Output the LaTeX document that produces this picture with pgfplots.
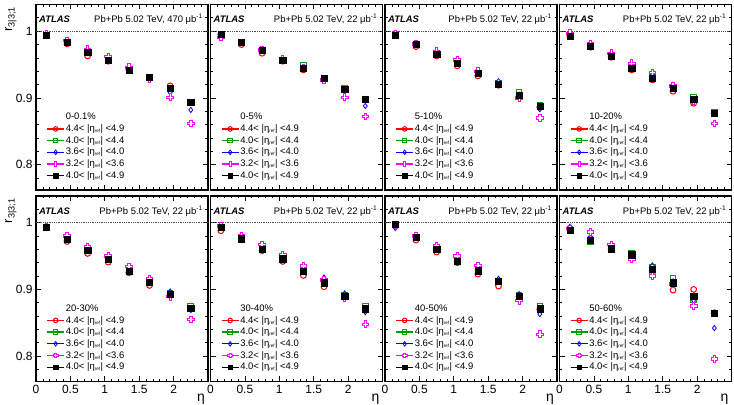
\documentclass[border=0pt]{standalone}
\usepackage{pgfplots}
\pgfplotsset{compat=1.18}
\usepackage{pgfplotstable}
\usepackage{fontspec}
\setmainfont{Liberation Sans}

\definecolor{rred}{RGB}{255,0,0}
\definecolor{rgreen}{RGB}{0,160,0}
\definecolor{rblue}{RGB}{0,0,255}
\definecolor{rmag}{RGB}{255,0,255}

% open cross marker
\pgfdeclareplotmark{ocross}{%
  \pgfpathmoveto{\pgfpoint{-\pgfplotmarksize}{-0.35\pgfplotmarksize}}%
  \pgfpathlineto{\pgfpoint{-0.35\pgfplotmarksize}{-0.35\pgfplotmarksize}}%
  \pgfpathlineto{\pgfpoint{-0.35\pgfplotmarksize}{-\pgfplotmarksize}}%
  \pgfpathlineto{\pgfpoint{0.35\pgfplotmarksize}{-\pgfplotmarksize}}%
  \pgfpathlineto{\pgfpoint{0.35\pgfplotmarksize}{-0.35\pgfplotmarksize}}%
  \pgfpathlineto{\pgfpoint{\pgfplotmarksize}{-0.35\pgfplotmarksize}}%
  \pgfpathlineto{\pgfpoint{\pgfplotmarksize}{0.35\pgfplotmarksize}}%
  \pgfpathlineto{\pgfpoint{0.35\pgfplotmarksize}{0.35\pgfplotmarksize}}%
  \pgfpathlineto{\pgfpoint{0.35\pgfplotmarksize}{\pgfplotmarksize}}%
  \pgfpathlineto{\pgfpoint{-0.35\pgfplotmarksize}{\pgfplotmarksize}}%
  \pgfpathlineto{\pgfpoint{-0.35\pgfplotmarksize}{0.35\pgfplotmarksize}}%
  \pgfpathlineto{\pgfpoint{-\pgfplotmarksize}{0.35\pgfplotmarksize}}%
  \pgfpathclose
  \pgfusepathqfillstroke}

% r_{3|3;1} vs eta; columns: 4.4-4.9 (r), 4.0-4.4 (g), 3.6-4.0 (b), 3.2-3.6 (m), 4.0-4.9 (k)
\pgfplotstableread{
eta  r     g     b     m     k
0.15 0.994 0.993 0.995 0.996 0.994
0.45 0.981 0.982 0.985 0.986 0.983
0.75 0.963 0.968 0.971 0.973 0.968
1.05 0.955 0.957 0.959 0.962 0.956
1.35 0.942 0.942 0.944 0.946 0.941
1.65 0.930 0.931 0.929 0.928 0.931
1.95 0.918 0.914 0.908 0.901 0.915
2.25 0.893 0.893 0.882 0.862 0.893
}\tabA
\pgfplotstableread{
eta  r     g     b     m     k
0.15 0.995 0.996 0.994 0.991 0.996
0.45 0.980 0.983 0.983 0.983 0.983
0.75 0.967 0.971 0.972 0.972 0.971
1.05 0.955 0.957 0.957 0.958 0.956
1.35 0.942 0.949 0.946 0.945 0.945
1.65 0.929 0.929 0.928 0.927 0.929
1.95 0.912 0.915 0.911 0.901 0.913
2.25 0.898 0.898 0.888 0.872 0.898
}\tabB
\pgfplotstableread{
eta  r     g     b     m     k
0.15 0.994 0.995 0.995 0.996 0.994
0.45 0.977 0.980 0.981 0.981 0.980
0.75 0.963 0.966 0.968 0.970 0.966
1.05 0.948 0.952 0.955 0.957 0.952
1.35 0.933 0.937 0.942 0.940 0.937
1.65 0.919 0.922 0.925 0.922 0.921
1.95 0.903 0.908 0.905 0.900 0.904
2.25 0.886 0.889 0.883 0.870 0.887
}\tabC
\pgfplotstableread{
eta  r     g     b     m     k
0.15 0.993 0.993 0.995 0.997 0.992
0.45 0.976 0.977 0.979 0.981 0.977
0.75 0.961 0.963 0.965 0.967 0.963
1.05 0.942 0.946 0.950 0.952 0.945
1.35 0.927 0.931 0.936 0.938 0.930
1.65 0.910 0.916 0.920 0.918 0.915
1.95 0.892 0.901 0.898 0.895 0.898
2.25 0.877 0.879 0.877 0.862 0.877
}\tabD
\pgfplotstableread{
eta  r     g     b     m     k
0.15 0.993 0.993 0.994 0.994 0.993
0.45 0.972 0.975 0.978 0.980 0.975
0.75 0.954 0.959 0.962 0.964 0.959
1.05 0.941 0.945 0.948 0.950 0.945
1.35 0.925 0.928 0.932 0.934 0.927
1.65 0.906 0.911 0.914 0.916 0.911
1.95 0.891 0.894 0.897 0.889 0.893
2.25 0.871 0.874 0.869 0.855 0.872
}\tabE
\pgfplotstableread{
eta  r     g     b     m     k
0.15 0.988 0.992 0.994 0.995 0.993
0.45 0.975 0.976 0.979 0.981 0.976
0.75 0.958 0.960 0.964 0.967 0.960
1.05 0.942 0.946 0.950 0.952 0.946
1.35 0.921 0.928 0.933 0.935 0.927
1.65 0.904 0.911 0.918 0.914 0.910
1.95 0.889 0.891 0.894 0.887 0.890
2.25 0.870 0.875 0.866 0.848 0.871
}\tabF
\pgfplotstableread{
eta  r     g     b     m     k
0.15 0.997 0.997 0.992 0.996 0.998
0.45 0.974 0.978 0.979 0.980 0.978
0.75 0.956 0.961 0.963 0.966 0.960
1.05 0.940 0.943 0.947 0.950 0.942
1.35 0.923 0.929 0.932 0.936 0.928
1.65 0.905 0.912 0.916 0.912 0.912
1.95 0.889 0.891 0.893 0.883 0.890
2.25 0.870 0.875 0.863 0.833 0.871
}\tabG
\pgfplotstableread{
eta  r     g     b     m     k
0.15 0.990 0.990 0.994 0.991 0.989
0.45 0.976 0.971 0.979 0.986 0.974
0.75 0.960 0.960 0.963 0.967 0.961
1.05 0.950 0.954 0.948 0.945 0.952
1.35 0.925 0.933 0.936 0.920 0.930
1.65 0.899 0.917 0.912 0.908 0.910
1.95 0.900 0.885 0.883 0.875 0.890
2.25 0.865 0.864 0.842 0.796 0.864
}\tabH

\newcommand{\er}{|η\textsubscript{\fontsize{4.5}{5}\selectfont ref}|}

\pgfplotsset{
  rpanel/.style={
    scale only axis, width=172bp, height=185.5bp, anchor=south west,
    xmin=0, xmax=2.5, ymin=0.762, ymax=1.04,
    xtick={0,0.5,1,1.5,2}, xticklabels={},
    minor xtick={0.1,0.2,0.3,0.4,0.6,0.7,0.8,0.9,1.1,1.2,1.3,1.4,1.6,1.7,1.8,1.9,2.1,2.2,2.3,2.4},
    ytick={0.8,0.9,1}, yticklabels={},
    minor ytick={0.78,0.82,0.84,0.86,0.88,0.92,0.94,0.96,0.98,1.02},
    tick align=inside, major tick length=5bp, minor tick length=2.5bp,
    every tick/.style={black, line width=0.7bp},
    axis line style={line width=1.1bp},
    tick label style={font=\fontsize{12}{12}\selectfont},
    legend style={draw=none, fill=none, at={(rel axis cs:0.06,0.425)}, anchor=north west,
      font=\fontsize{9.5}{10}\selectfont, row sep=0pt, inner sep=0pt,
      nodes={inner sep=1bp, text height=7.5bp, text depth=2.2bp}},
    legend cell align=left,
    legend image code/.code={%
      \draw[##1, line width=1.3bp, mark=none] (0cm,0cm) -- (0.6cm,0cm);
      \draw[##1, mark size=2.3bp] plot coordinates {(0.3cm,0cm)};},
  },
  sred/.style={only marks, color=rred, mark=o, mark size=2.9bp, mark options={line width=1bp}},
  sgreen/.style={only marks, color=rgreen, mark=square, mark size=2.8bp, mark options={line width=1bp}},
  sblue/.style={only marks, color=rblue, mark=diamond, mark size=2.6bp, mark options={line width=0.8bp}},
  smag/.style={only marks, color=rmag, mark=ocross, mark size=3.3bp, mark options={line width=0.9bp, fill=white}},
  sblack/.style={only marks, color=black, mark=square*, mark size=3.1bp},
}

% one centrality panel: x, y, table, centrality, luminosity, extra keys
\newcommand{\panel}[6]{%
  \begin{axis}[rpanel, at={(#1bp,#2bp)}, #6]
    \addlegendimage{empty legend}\addlegendentry{#4}
    \draw[densely dotted, line width=0.8bp, black!70] (axis cs:0,1) -- (axis cs:2.5,1);
    \addplot[sred]   table[x=eta, y=r] {#3}; \addlegendentry{4.4< \er{} <4.9}
    \addplot[sgreen] table[x=eta, y=g] {#3}; \addlegendentry{4.0< \er{} <4.4}
    \addplot[sblue]  table[x=eta, y=b] {#3}; \addlegendentry{3.6< \er{} <4.0}
    \addplot[smag]   table[x=eta, y=m] {#3}; \addlegendentry{3.2< \er{} <3.6}
    \addplot[sblack] table[x=eta, y=k] {#3}; \addlegendentry{4.0< \er{} <4.9}
    \node[anchor=west, inner sep=0, xshift=3bp, yshift=-15bp,
      font=\fontsize{9.5}{10}\selectfont\bfseries\itshape] at (rel axis cs:0,1) {ATLAS};
    \node[anchor=east, inner sep=0, xshift=-5bp, yshift=-15bp,
      font=\fontsize{9.5}{10}\selectfont] at (rel axis cs:1,1)
      {Pb+Pb 5.02 TeV, #5 μb\textsuperscript{-1}};
  \end{axis}}

\tikzset{ylab/.style={xshift=-31bp, yshift=-2bp, rotate=90, anchor=north east, inner sep=0,
  font=\fontsize{13}{13}\selectfont}}
\tikzset{xlab/.style={anchor=north east, inner sep=0, xshift=-3bp, yshift=-12bp,
  font=\fontsize{14}{14}\selectfont}}

\begin{document}
\begin{tikzpicture}
\path[use as bounding box] (0,0) rectangle (734bp,405bp);
\panel{36}{215}{\tabA}{0-0.1\%}{470}{yticklabels={0.8,0.9,1},
  extra description/.code={\node[ylab] at (rel axis cs:0,1) {r\textsubscript{3|3;1}};}}
\panel{210.5}{215}{\tabB}{0-5\%}{22}{}
\panel{385}{215}{\tabC}{5-10\%}{22}{}
\panel{559.5}{215}{\tabD}{10-20\%}{22}{}
\panel{36}{23.5}{\tabE}{20-30\%}{22}{yticklabels={0.8,0.9,1}, xticklabels={0,0.5,1,1.5,2},
  extra description/.code={\node[ylab] at (rel axis cs:0,1) {r\textsubscript{3|3;1}};
    \node[xlab] at (rel axis cs:1,0) {η};}}
\panel{210.5}{23.5}{\tabF}{30-40\%}{22}{xticklabels={0,0.5,1,1.5,2},
  extra description/.code={\node[xlab] at (rel axis cs:1,0) {η};}}
\panel{385}{23.5}{\tabG}{40-50\%}{22}{xticklabels={0,0.5,1,1.5,2},
  extra description/.code={\node[xlab] at (rel axis cs:1,0) {η};}}
\panel{559.5}{23.5}{\tabH}{50-60\%}{22}{xticklabels={0,0.5,1,1.5,2},
  extra description/.code={\node[xlab] at (rel axis cs:1,0) {η};}}
\end{tikzpicture}
\end{document}
